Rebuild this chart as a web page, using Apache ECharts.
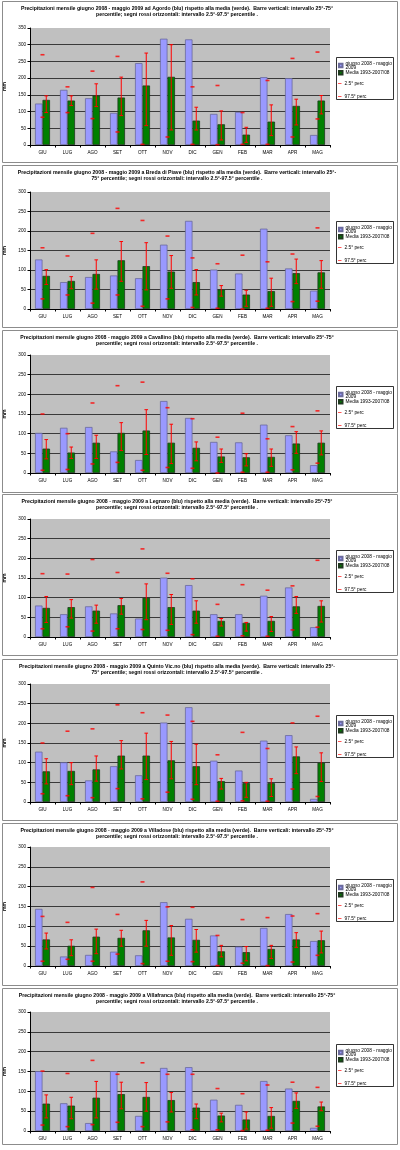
<!DOCTYPE html>
<html><head><meta charset="utf-8">
<script src="https://cdn.jsdelivr.net/npm/echarts@6/dist/echarts.min.js"></script>
<style>html,body{margin:0;padding:0;background:#fff}#c{width:400px;height:1150px}</style>
</head><body><div id="c"></div><script>
const months = ['GIU','LUG','AGO','SET','OTT','NOV','DIC','GEN','FEB','MAR','APR','MAG'];
const stations = ['ad Agordo','a Breda di Piave','a Cavallino','a Legnaro','a Quinto Vic.no','a Villadose','a Villafranca'];
const yMax = [350,300,300,300,300,300,300];
const titleBreakEarly = [false,true,false,false,true,false,false];

// Agordo
const agordoObs  = [124,165,140,96,245,318,316,93,99,203,200,30];
const agordoMean = [135,133,148,142,178,204,73,62,31,70,117,133];
const agordoP25  = [97,118,115,88,58,45,45,15,8,28,60,93];
const agordoP75  = [147,147,183,203,275,300,113,102,53,120,137,148];
const agordoP2_5 = [83,97,79,39,2,24,2,1,2,2,24,78];
const agordoP97_5= [270,174,221,265,null,null,174,178,97,193,259,278];
// Breda di Piave
const bredaObs  = [127,69,82,86,79,165,226,101,91,206,104,47];
const bredaMean = [85,72,90,125,110,96,69,50,37,46,92,94];
const bredaP25  = [63,52,51,71,49,53,36,33,7,7,65,53];
const bredaP75  = [101,83,126,173,170,137,101,60,48,79,128,124];
const bredaP2_5 = [26,36,15,36,7,26,4,2,0,2,19,20];
const bredaP97_5= [157,136,194,258,227,187,131,116,138,121,141,208];
// Cavallino
const cavallinoObs  = [102,115,117,55,33,183,140,79,78,123,96,20];
const cavallinoMean = [62,52,77,102,108,77,64,42,40,41,75,77];
const cavallinoP25  = [36,37,37,57,47,24,31,27,18,17,50,46];
const cavallinoP75  = [85,66,96,128,161,124,79,61,49,61,105,107];
const cavallinoP2_5 = [7,9,23,27,7,14,12,0,2,2,8,25];
const cavallinoP97_5= [150,100,178,222,231,166,138,91,152,87,118,158];
// Legnaro
const legnaroObs  = [80,58,78,60,47,151,132,58,58,105,126,25];
const legnaroMean = [74,76,67,81,100,76,67,41,36,41,78,79];
const legnaroP25  = [37,48,35,58,44,32,35,28,15,14,60,38];
const legnaroP75  = [103,95,81,98,135,108,92,47,37,52,103,92];
const legnaroP2_5 = [21,26,15,21,19,17,6,2,3,2,18,25];
const legnaroP97_5= [161,160,197,164,224,162,148,83,133,119,130,195];
// Quinto Vicentino
const quintoObs  = [128,101,55,91,68,202,241,105,80,156,170,8];
const quintoMean = [78,79,83,118,118,106,91,53,48,48,116,100];
const quintoP25  = [46,44,53,84,57,59,44,33,12,14,72,52];
const quintoP75  = [110,100,117,156,175,154,147,60,50,59,140,125];
const quintoP2_5 = [21,16,11,34,8,25,7,2,3,2,33,14];
const quintoP97_5= [150,180,186,247,227,221,205,120,177,136,201,218];
// Villadose
const villadoseObs  = [144,24,28,36,27,161,119,77,49,96,131,63];
const villadoseMean = [67,51,74,71,90,72,66,37,35,43,67,65];
const villadoseP25  = [43,26,31,50,50,27,35,23,13,19,47,33];
const villadoseP75  = [83,66,93,90,115,102,92,52,49,52,84,88];
const villadoseP2_5 = [12,17,12,30,6,12,11,1,7,1,10,27];
const villadoseP97_5= [125,110,198,130,212,149,148,77,117,122,126,132];
// Villafranca
const villafrancaObs  = [151,70,20,151,38,159,161,79,66,126,107,8];
const villafrancaMean = [69,64,84,93,86,78,59,39,29,38,76,62];
const villafrancaP25  = [33,31,33,56,50,48,31,23,5,7,57,51];
const villafrancaP75  = [91,85,125,123,122,97,68,45,48,59,96,73];
const villafrancaP2_5 = [15,11,16,22,11,23,3,3,1,2,20,12];
const villafrancaP97_5= [151,145,178,143,172,143,143,107,94,116,123,110];

const obsAll  = [agordoObs,bredaObs,cavallinoObs,legnaroObs,quintoObs,villadoseObs,villafrancaObs];
const meanAll = [agordoMean,bredaMean,cavallinoMean,legnaroMean,quintoMean,villadoseMean,villafrancaMean];
const p25All  = [agordoP25,bredaP25,cavallinoP25,legnaroP25,quintoP25,villadoseP25,villafrancaP25];
const p75All  = [agordoP75,bredaP75,cavallinoP75,legnaroP75,quintoP75,villadoseP75,villafrancaP75];
const p2All   = [agordoP2_5,bredaP2_5,cavallinoP2_5,legnaroP2_5,quintoP2_5,villadoseP2_5,villafrancaP2_5];
const p97All  = [agordoP97_5,bredaP97_5,cavallinoP97_5,legnaroP97_5,quintoP97_5,villadoseP97_5,villafrancaP97_5];

const S1 = 'giugno 2008 - maggio\n2009', S2 = 'Media 1993-2007/08', S3 = '2.5° perc', S4 = '97.5° perc';

// layout
const frames = [[1,162],[165,327],[330,492],[494,655],[659,820],[823,985],[988,1144]];
const grids = [[28,145],[192,309],[355,473],[519,637],[684,802],[847,966],[1012,1131]];
const FONT = '"Liberation Sans", Arial, sans-serif';

function renderErr(params, api) {
  const i = api.value(0);
  const lo = api.coord([i, api.value(1)]);
  const hi = api.coord([i, api.value(2)]);
  const band = api.size([1, 0])[0];
  const x = lo[0] + band * 0.15;
  const cap = 1.8;
  const style = {stroke: '#ff0000', lineWidth: 1};
  return {type: 'group', children: [
    {type: 'line', shape: {x1: x, y1: lo[1], x2: x, y2: hi[1]}, style},
    {type: 'line', shape: {x1: x - cap, y1: hi[1], x2: x + cap, y2: hi[1]}, style},
    {type: 'line', shape: {x1: x - cap, y1: lo[1], x2: x + cap, y2: lo[1]}, style}
  ]};
}

const option = {animation: false, backgroundColor: '#fff', textStyle: {fontFamily: FONT},
  grid: [], xAxis: [], yAxis: [], series: [], title: [], legend: [], graphic: []};

const dash = 'path://M0,0H10V2.4H0Z';
const legendText = {fontSize: 4.8, color: '#000', lineHeight: 4, fontFamily: FONT, padding: [0, 0, 0, -2]};

for (let k = 0; k < 7; k++) {
  const [ft, fb] = frames[k];
  const [gt, gb] = grids[k];
  option.graphic.push({type: 'rect', z: -10, silent: true,
    shape: {x: 2.5, y: ft + 0.5, width: 395, height: fb - ft},
    style: {fill: '#fff', stroke: '#8c8c8c', lineWidth: 1}});
  option.graphic.push({type: 'rect', z: 1, silent: true,
    shape: {x: 336.5, y: ft + 56.5, width: 57, height: 42},
    style: {fill: '#fff', stroke: '#000', lineWidth: 0.8}});
  const name = stations[k];
  const l1 = titleBreakEarly[k]
    ? 'Precipitazioni mensile giugno 2008 - maggio 2009 ' + name + ' (blu) rispetto alla media (verde).  Barre verticali: intervallo 25°-'
    : 'Precipitazioni mensile giugno 2008 - maggio 2009 ' + name + ' (blu) rispetto alla media (verde).  Barre verticali: intervallo 25°-75°';
  const l2 = titleBreakEarly[k]
    ? '75° percentile; segni rossi orizzontali: intervallo 2.5°-97.5° percentile .'
    : 'percentile; segni rossi orizzontali: intervallo 2.5°-97.5° percentile .';
  option.title.push({text: l1 + '\n' + l2, left: 177, textAlign: 'center', top: ft + 4, padding: 0,
    textStyle: {fontSize: 5.2, fontWeight: 'bold', color: '#000', lineHeight: 6.5, fontFamily: FONT}});
  option.grid.push({left: 30, right: 70, top: gt, height: gb - gt, show: true,
    backgroundColor: '#c0c0c0', borderWidth: 0, containLabel: false, outerBoundsMode: 'none'});
  option.xAxis.push({type: 'category', gridIndex: k, data: months,
    axisLine: {lineStyle: {color: '#000', width: 1}},
    axisTick: {show: true, length: 2.5, lineStyle: {color: '#000'}},
    axisLabel: {fontSize: 4.6, color: '#000', margin: 5, interval: 0, fontFamily: FONT},
    splitLine: {show: false}});
  option.yAxis.push({type: 'value', gridIndex: k, min: 0, max: yMax[k], interval: 50,
    name: 'mm', nameLocation: 'middle', nameRotate: 90, nameGap: 17.5,
    nameTextStyle: {fontSize: 5, fontWeight: 'bold', color: '#000', fontFamily: FONT},
    axisLine: {show: true, lineStyle: {color: '#000', width: 1}},
    axisTick: {show: true, length: 2.5, lineStyle: {color: '#000'}},
    axisLabel: {fontSize: 4.6, color: '#000', margin: 4, fontFamily: FONT},
    splitLine: {show: true, showMaxLine: false, lineStyle: {color: '#3a3a3a', width: 1}}});
  option.series.push({name: S1, type: 'bar', xAxisIndex: k, yAxisIndex: k, data: obsAll[k],
    barWidth: '30%', barGap: '0%',
    itemStyle: {color: '#9999ff', borderColor: '#6a6a9c', borderWidth: 0.8}});
  option.series.push({name: S2, type: 'bar', xAxisIndex: k, yAxisIndex: k, data: meanAll[k],
    barWidth: '30%', barGap: '0%',
    itemStyle: {color: '#008000', borderColor: '#1f3a1f', borderWidth: 0.8}});
  option.series.push({name: '25°-75° perc', type: 'custom', xAxisIndex: k, yAxisIndex: k,
    renderItem: renderErr, z: 5,
    encode: {x: 0, y: [1, 2]},
    data: months.map((m, i) => [i, p25All[k][i], p75All[k][i]])});
  option.series.push({name: S3, type: 'scatter', xAxisIndex: k, yAxisIndex: k, data: p2All[k],
    symbol: 'rect', symbolSize: [4, 1.6], z: 6, itemStyle: {color: '#ff0000'}});
  option.series.push({name: S4, type: 'scatter', xAxisIndex: k, yAxisIndex: k, data: p97All[k],
    symbol: 'rect', symbolSize: [4, 1.6], z: 6, itemStyle: {color: '#ff0000'}});
  option.legend.push({orient: 'vertical', left: 338, top: ft + 60, z: 5,
    padding: 0, itemGap: 0, itemWidth: 3.5, itemHeight: 3.5, selectedMode: false,
    textStyle: legendText,
    data: [{name: S1, icon: 'rect'}, {name: S2, icon: 'rect'}]});
  option.legend.push({orient: 'vertical', left: 338, top: ft + 80, z: 5,
    padding: 0, itemGap: 8, itemWidth: 3.5, itemHeight: 3.5, selectedMode: false,
    textStyle: legendText,
    data: [{name: S3, icon: dash}, {name: S4, icon: dash}]});
}

const chart = echarts.init(document.getElementById('c'), null, {renderer: 'canvas'});
chart.setOption(option);
</script></body></html>
